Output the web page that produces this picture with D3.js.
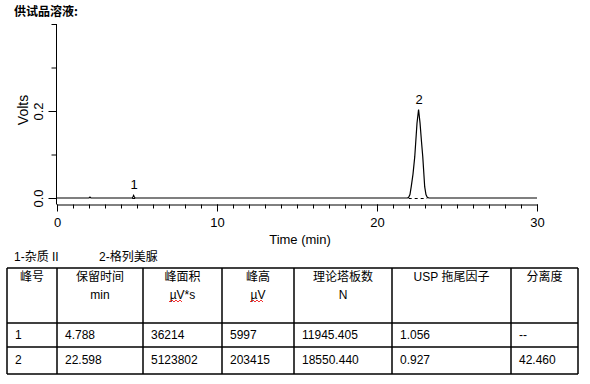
<!DOCTYPE html>
<html>
<head>
<meta charset="utf-8">
<script src="https://cdn.jsdelivr.net/npm/d3@7"></script>
<style>
  body { margin: 0; background: #fff; }
  svg { display: block; font-family: "Liberation Sans", Arial, "Noto Sans CJK SC", sans-serif; }
</style>
</head>
<body>
<div id="chart"></div>
<script>
// chromatogram trace (min, volts)
const traceTime  = [0, 2.0, 2.06, 2.12, 4.70, 4.75, 4.788, 4.83, 4.88, 21.9, 21.98, 22.06, 22.14, 22.25, 22.36, 22.5, 22.598, 22.69, 22.78, 22.86, 22.98, 23.06, 23.14, 23.25, 30];
const traceVolts = [0, 0, 0.002, 0, 0, 0.003, 0.006, 0.003, 0, 0, 0.0016, 0.008, 0.026, 0.055, 0.095, 0.172, 0.2034, 0.172, 0.13, 0.095, 0.026, 0.008, 0.0016, 0, 0];

// peaks
const peakNo = ["1", "2"];
const peakNames = ["杂质 II", "格列美脲"];
const retTimes = [4.788, 22.598];
const peakHeightsV = [0.006, 0.2034];
const baseStart = [4.70, 21.98];
const baseEnd = [4.88, 23.14];

// axis ticks
const xMajor = [0, 10, 20, 30];
const xMinor = d3.range(0, 31);
const yMajor = [0.0, 0.2];
const yMinor = [0.1, 0.3, 0.4];

// result table
const headers = ["峰号", "保留时间", "峰面积", "峰高", "理论塔板数", "USP 拖尾因子", "分离度"];
const units = ["", "min", "µV*s", "µV", "N", "", ""];
const colRetTime = ["4.788", "22.598"];
const colArea = ["36214", "5123802"];
const colHeight = ["5997", "203415"];
const colPlates = ["11945.405", "18550.440"];
const colTailing = ["1.056", "0.927"];
const colResolution = ["--", "42.460"];

const W = 590, H = 384;
const svg = d3.select("#chart").append("svg")
    .attr("width", W)
    .attr("height", H);

// title
svg.append("text")
    .attr("x", 14).attr("y", 16)
    .attr("font-size", 12).attr("font-weight", "bold")
    .attr("font-family", "'Noto Sans CJK SC', sans-serif")
    .text("供试品溶液:");

// scales
const x = d3.scaleLinear().domain([0, 30]).range([57, 537]);
const y = d3.scaleLinear().domain([0, 0.4]).range([198, 24]);
const axisY = 204.5;

// x axis: minor then major ticks
svg.append("g")
    .attr("transform", `translate(0,${axisY})`)
    .call(d3.axisBottom(x).tickValues(xMinor).tickSize(4).tickSizeOuter(0).tickFormat(""))
    .call(g => g.select(".domain").attr("stroke", "#000"));
const gx = svg.append("g")
    .attr("transform", `translate(0,${axisY})`)
    .call(d3.axisBottom(x).tickValues(xMajor).tickSize(7).tickSizeOuter(0).tickFormat(d3.format("d")));
gx.select(".domain").remove();
gx.selectAll("text").attr("font-size", 13).attr("font-family", "'Liberation Sans', Arial").attr("dy", 0).attr("y", 22).attr("fill", "#000");

svg.append("text")
    .attr("x", 300).attr("y", 244)
    .attr("text-anchor", "middle")
    .attr("font-size", 13)
    .text("Time (min)");

// y axis
svg.append("line")
    .attr("x1", 56.5).attr("x2", 56.5)
    .attr("y1", y(0.4)).attr("y2", axisY)
    .attr("stroke", "#000");
const gyMinor = svg.append("g")
    .attr("transform", "translate(56.5,0)")
    .call(d3.axisLeft(y).tickValues(yMinor).tickSize(5).tickFormat(""));
gyMinor.select(".domain").remove();
const gy = svg.append("g")
    .attr("transform", "translate(56.5,0)")
    .call(d3.axisLeft(y).tickValues(yMajor).tickSize(8).tickFormat(d3.format(".1f")));
gy.select(".domain").remove();
gy.selectAll("text")
    .attr("x", null).attr("dy", null)
    .attr("transform", "translate(-13.5,0) rotate(-90)")
    .attr("text-anchor", "middle")
    .attr("font-size", 13)
    .attr("font-family", "'Liberation Sans', Arial")
    .attr("fill", "#000");

svg.append("text")
    .attr("transform", "translate(28,110) rotate(-90)")
    .attr("text-anchor", "middle")
    .attr("font-size", 14)
    .text("Volts");

// trace
const line = d3.line()
    .x((d, i) => x(traceTime[i]))
    .y((d, i) => y(traceVolts[i]));
svg.append("path")
    .datum(traceTime)
    .attr("d", line)
    .attr("fill", "none")
    .attr("stroke", "#000")
    .attr("stroke-width", 1.2);

// dashed baselines under peaks
svg.selectAll(".bl")
    .data(peakNo)
    .join("line")
    .attr("x1", (d, i) => x(baseStart[i]))
    .attr("x2", (d, i) => x(baseEnd[i]))
    .attr("y1", y(0) + 0.5).attr("y2", y(0) + 0.5)
    .attr("stroke", "#000")
    .attr("stroke-dasharray", "3,3");

// peak labels
svg.selectAll(".plabel")
    .data(peakNo)
    .join("text")
    .attr("x", (d, i) => x(retTimes[i]) + 0.5)
    .attr("y", (d, i) => y(peakHeightsV[i]) - 6)
    .attr("text-anchor", "middle")
    .attr("font-size", 13)
    .text(d => d);

// legend line under the plot
svg.selectAll(".legend")
    .data(peakNo)
    .join("text")
    .attr("x", (d, i) => [14, 99][i])
    .attr("y", 261)
    .attr("font-size", 12)
    .text((d, i) => d + "-" + peakNames[i]);

// table
const colX = [7, 57, 143, 222, 294, 392, 511, 578];
const rowY = [268, 323, 347, 374];
const tbl = svg.append("g");
rowY.forEach(v => tbl.append("line")
    .attr("x1", colX[0]).attr("x2", colX[colX.length - 1])
    .attr("y1", v).attr("y2", v)
    .attr("stroke", "#000").attr("stroke-width", 1.5));
colX.forEach(v => tbl.append("line")
    .attr("x1", v).attr("x2", v)
    .attr("y1", rowY[0]).attr("y2", rowY[rowY.length - 1])
    .attr("stroke", "#000").attr("stroke-width", 1.5));

headers.forEach((h, i) => {
    const cx = (colX[i] + colX[i + 1]) / 2;
    tbl.append("text")
        .attr("x", cx).attr("y", 281)
        .attr("text-anchor", "middle")
        .attr("font-size", 12)
        .text(h);
    if (units[i]) {
        tbl.append("text")
            .attr("x", cx).attr("y", 299)
            .attr("text-anchor", "middle")
            .attr("font-size", 12)
            .text(units[i]);
    }
});

// red spell-check squiggles under the µV units
[[169, 182], [250, 263]].forEach(([a, b]) => {
    let d = `M${a},301`;
    for (let k = a; k < b; k += 2) d += `L${k + 1},${(k - a) % 4 === 0 ? 302 : 300}`;
    tbl.append("path").attr("d", d).attr("fill", "none").attr("stroke", "#e00").attr("stroke-width", 0.8);
});

const columns = [peakNo, colRetTime, colArea, colHeight, colPlates, colTailing, colResolution];
const rowBase = [339, 364];
columns.forEach((col, ci) => {
    col.forEach((v, ri) => {
        tbl.append("text")
            .attr("x", colX[ci] + 8)
            .attr("y", rowBase[ri])
            .attr("font-size", 12)
            .text(v);
    });
});
</script>
</body>
</html>
